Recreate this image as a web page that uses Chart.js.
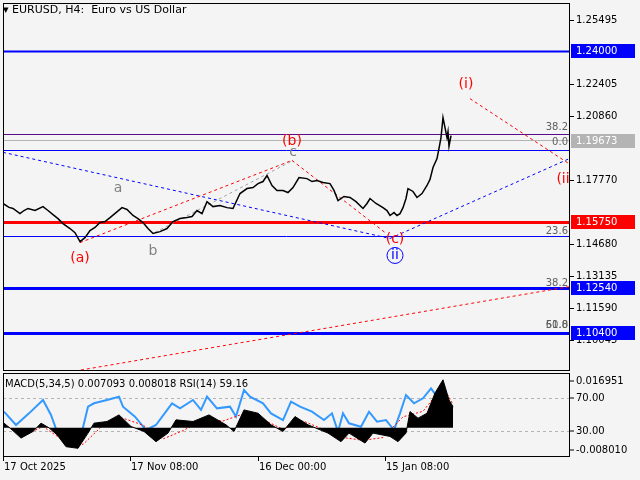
<!DOCTYPE html>
<html><head><meta charset="utf-8">
<script src="https://cdn.jsdelivr.net/npm/chart.js@4.4.1/dist/chart.umd.min.js"></script>
<style>
body{margin:0;background:#f4f4f4;width:640px;height:480px;overflow:hidden;position:relative;font-family:"DejaVu Sans",sans-serif}
#c1{position:absolute;left:0;top:0}
#c2{position:absolute;left:0;top:371px}
</style></head><body>
<canvas id="c1" width="640" height="371"></canvas>
<canvas id="c2" width="640" height="109"></canvas>
<script>
// ---- data ----
const priceBars=[0,6,10,17,21,25,32,40,45,50,55,60,67,72,77,82,87,92,97,102,107,113,119,124,130,135,140,145,150,157,164,170,177,184,189,194,199,204,210,217,224,230,237,244,250,255,260,264,269,274,280,285,290,296,304,309,314,320,327,331,335,341,347,353,360,364,367,373,380,384,387,391,394,397,400,403,405,410,414,419,424,427,430,434,436,438,440,442,444,445,446,448];
const priceVals=[1.1664,1.1645,1.1640,1.1615,1.1630,1.1640,1.1630,1.1649,1.1630,1.1610,1.1591,1.1567,1.1543,1.1523,1.1480,1.1499,1.1533,1.1548,1.1572,1.1577,1.1596,1.1620,1.1644,1.1635,1.1606,1.1591,1.1572,1.1543,1.1519,1.1528,1.1543,1.1577,1.1591,1.1596,1.1601,1.1630,1.1615,1.1673,1.1649,1.1654,1.1644,1.1640,1.1712,1.1736,1.1741,1.1760,1.1770,1.1799,1.1751,1.1727,1.1727,1.1717,1.1741,1.1789,1.1784,1.1770,1.1775,1.1765,1.1760,1.1727,1.1678,1.1698,1.1693,1.1673,1.1640,1.1664,1.1688,1.1664,1.1644,1.1630,1.1606,1.1620,1.1606,1.1615,1.1644,1.1688,1.1736,1.1722,1.1693,1.1712,1.1751,1.1780,1.1838,1.1881,1.1930,1.1982,1.2079,1.2030,1.1982,1.2011,1.1940,1.1992,1.1934];
const axisTicks=[1.25495,1.22405,1.20860,1.17770,1.14680,1.13135,1.11590,1.10045];
const levelPrices=[1.2400,1.1998,1.1969,1.1921,1.1575,1.1509,1.1254,1.1040];
const levelColors=['#0000ff','#5b0a8c','#b4b4b4','#0000ff','#ff0000','#0000ff','#0000ff','#0000ff'];
const levelWidths=[2,1,1,1,3,1,3,3];
const boxPrices=[1.2400,1.1967,1.1575,1.1254,1.1040];
const boxLabels=['1.24000','1.19673','1.15750','1.12540','1.10400'];
const boxColors=['#0000ff','#b4b4b4','#ff0000','#0000ff','#0000ff'];
const fiboLabels=['38.2','0.0','23.6','38.2','50.0','61.8'];
const fiboPrices=[1.2030,1.1959,1.1530,1.1280,1.1075,1.1075];
const waveText=['(a)','a','b','(b)','c','(c)','ii','(i)','(ii'];
const waveBars=[77,115,150,289,290,392,392,463,560];
const wavePrices=[1.1399,1.1738,1.1432,1.1964,1.1910,1.1490,1.1413,1.2238,1.1780];
const waveColors=['#ff0000','#808080','#808080','#ff0000','#808080','#ff0000','#0000ff','#ff0000','#ff0000'];
const dashLines=[ // [bar1,price1,bar2,price2,color]
 [0,1.1911,387,1.1495,'#0000ff'],[387,1.1495,567,1.1882,'#0000ff'],
 [77,1.1475,289,1.1872,'#ff0000'],[289,1.1872,382,1.1524,'#ff0000'],
 [467,1.2170,567,1.1853,'#ff0000'],[72,1.0855,567,1.1263,'#ff0000'],
 [152,1.1524,290,1.1872,'#a0a0a0']];
const rsiBars=[1,13,26,40,48,54,65,79,85,91,104,116,120,132,143,153,169,177,190,198,204,214,227,233,241,247,260,268,280,288,297,309,321,329,335,340,346,358,366,374,383,391,397,403,411,420,428,434,440,446,450];
const rsiVals=[53.4,37.3,51.4,67.6,49.4,29.2,27.2,29.2,59.5,63.6,67.6,71.6,59.5,47.4,31.2,37.3,63.6,57.5,67.6,55.5,71.6,57.5,59.5,47.4,79.7,71.6,63.6,51.4,43.3,65.6,59.5,53.4,43.3,51.4,29.2,51.4,39.3,35.2,53.4,41.3,43.3,31.2,51.4,73.6,63.6,69.6,81.7,71.6,83.7,59.5,57.5];
const macdBars=[1,9,18,30,38,46,54,63,75,85,91,104,116,128,141,153,165,173,190,206,223,231,241,255,268,280,292,305,317,325,338,346,362,370,387,395,403,407,415,424,432,440,446,450];
const macdVals=[0.0017,-0.0007,-0.0037,-0.0013,0.0017,0.0000,-0.0025,-0.0068,-0.0074,-0.0019,0.0017,0.0023,0.0047,0.0005,-0.0013,-0.0050,-0.0019,0.0029,0.0023,0.0047,0.0011,-0.0013,0.0065,0.0053,0.0011,-0.0013,0.0041,0.0011,-0.0007,-0.0019,-0.0050,-0.0019,-0.0055,-0.0019,-0.0031,-0.0050,-0.0019,0.0059,0.0035,0.0053,0.0126,0.0174,0.0101,0.0077];
const sigBars=[1,20,40,60,80,100,120,140,160,180,200,220,240,260,280,300,320,340,360,380,400,420,440,450];
const sigVals=[0.0012,-0.0030,0.0005,-0.0045,-0.0060,0.0010,0.0035,0.0010,-0.0040,-0.0010,0.0030,0.0025,0.0050,0.0030,-0.0005,0.0025,-0.0005,-0.0035,-0.0045,-0.0035,0.0040,0.0060,0.0150,0.0085];
const xTickBars=[0,127,255,382];
const xTickLabels=['17 Oct 2025','17 Nov 08:00','16 Dec 00:00','15 Jan 08:00'];
const subTicks=[[0.016951,'0.016951','yMacd'],[70,'70.00','yRsi'],[30,'30.00','yRsi'],[-0.008010,'-0.008010','yMacd']];
const titleText='EURUSD, H4:  Euro vs US Dollar';
const subTitle='MACD(5,34,5) 0.007093 0.008018 RSI(14) 59.16';

const F='10px "DejaVu Sans"';
const xy=(a,b)=>a.map((v,i)=>({x:v,y:b[i]}));

const mainPlugin={id:'mp',
 beforeDatasetsDraw(ch){const c=ch.ctx,a=ch.chartArea,x=ch.scales.x,y=ch.scales.y;
  c.save();
  levelPrices.forEach((p,i)=>{const py=Math.round(y.getPixelForValue(p))+0.5;c.strokeStyle=levelColors[i];c.lineWidth=levelWidths[i];c.beginPath();c.moveTo(a.left,py);c.lineTo(a.right,py);c.stroke();});
  c.setLineDash([3,3]);c.lineWidth=1;
  dashLines.forEach(d=>{c.strokeStyle=d[4];c.beginPath();c.moveTo(x.getPixelForValue(d[0]),y.getPixelForValue(d[1]));c.lineTo(x.getPixelForValue(d[2]),y.getPixelForValue(d[3]));c.stroke();});
  c.restore();},
 afterDatasetsDraw(ch){const c=ch.ctx,a=ch.chartArea,x=ch.scales.x,y=ch.scales.y;
  c.save();c.font=F;c.textBaseline='middle';
  c.fillStyle='#606060';c.textAlign='right';
  fiboLabels.forEach((t,i)=>c.fillText(t,a.right-2,y.getPixelForValue(fiboPrices[i])));
  c.font='14px "DejaVu Sans"';c.textAlign='center';
  waveText.forEach((t,i)=>{const px=x.getPixelForValue(waveBars[i]),py=y.getPixelForValue(wavePrices[i]);c.fillStyle=waveColors[i];c.fillText(t,px,py);
   if(t==='ii'){c.strokeStyle='#0000ff';c.lineWidth=1;c.beginPath();c.arc(px,py,8,0,7);c.stroke();}});
  c.font='11px "DejaVu Sans"';c.textAlign='left';c.fillStyle='#000';
  c.fillText('\u25BE '+titleText,3,10);
  c.strokeStyle='#000';c.lineWidth=1;c.strokeRect(a.left+0.5,a.top+0.5,a.width-1,a.height);
  c.font=F;
  axisTicks.forEach(v=>{const py=Math.round(y.getPixelForValue(v))+0.5;c.beginPath();c.moveTo(a.right,py);c.lineTo(a.right+4,py);c.stroke();c.fillText(v.toFixed(5),a.right+6,py);});
  boxPrices.forEach((p,i)=>{const py=Math.round(y.getPixelForValue(p));c.fillStyle=boxColors[i];c.fillRect(a.right+1,py-7,64,14);c.fillStyle='#fff';c.fillText(boxLabels[i],a.right+6,py);});
  c.restore();}
};
new Chart(document.getElementById('c1'),{type:'line',
 data:{datasets:[{data:xy(priceBars,priceVals),borderColor:'#000',borderWidth:1.5,pointRadius:0,tension:0}]},
 options:{animation:false,responsive:false,events:[],plugins:{legend:{display:false},tooltip:{enabled:false}},
  layout:{padding:{left:3,top:3,bottom:1,right:70}},
  scales:{x:{type:'linear',min:0,max:567,display:false},
   y:{min:1.0860,max:1.2632,display:false}}},
 plugins:[mainPlugin]});

const subPlugin={id:'sp',
 beforeDatasetsDraw(ch){const c=ch.ctx,a=ch.chartArea,r=ch.scales.yRsi;c.save();c.strokeStyle='#b4b4b4';c.setLineDash([3,3]);
  [70,30].forEach(v=>{const py=Math.round(r.getPixelForValue(v))+0.5;c.beginPath();c.moveTo(a.left,py);c.lineTo(a.right,py);c.stroke();});c.restore();},
 afterDatasetsDraw(ch){const c=ch.ctx,a=ch.chartArea,x=ch.scales.x;c.save();
  c.strokeStyle='#000';c.strokeRect(a.left+0.5,a.top+0.5,a.width-1,a.height-1);
  c.font=F;c.fillStyle='#000';c.textBaseline='middle';c.textAlign='left';
  c.fillText(subTitle,5,a.top+11);
  subTicks.forEach(t=>{const py=ch.scales[t[2]].getPixelForValue(t[0]);c.beginPath();c.moveTo(a.right,py);c.lineTo(a.right+4,py);c.stroke();c.fillText(t[1],a.right+6,py);});
  c.textBaseline='top';
  xTickBars.forEach((b,i)=>{const px=x.getPixelForValue(b);c.beginPath();c.moveTo(px+0.5,a.bottom);c.lineTo(px+0.5,a.bottom+4);c.stroke();c.fillText(xTickLabels[i],px+1,a.bottom+5);});
  c.restore();}};
new Chart(document.getElementById('c2'),{type:'line',
 data:{datasets:[
  {data:xy(macdBars,macdVals),yAxisID:'yMacd',borderColor:'#000',backgroundColor:'#000',fill:{value:0},borderWidth:1,pointRadius:0},
  {data:xy(sigBars,sigVals),yAxisID:'yMacd',borderColor:'#ff0000',borderDash:[2,2],borderWidth:1,pointRadius:0,fill:false},
  {data:xy(rsiBars,rsiVals),yAxisID:'yRsi',borderColor:'#3399ff',borderWidth:2,pointRadius:0,fill:false}]},
 options:{animation:false,responsive:false,events:[],plugins:{legend:{display:false},tooltip:{enabled:false}},
  layout:{padding:{left:3,top:2,bottom:23,right:70}},
  scales:{x:{type:'linear',min:0,max:567,display:false},
   yRsi:{type:'linear',axis:'y',min:-1.5,max:100.3,display:false},yMacd:{type:'linear',axis:'y',min:-0.01054,max:0.01985,display:false}}},
 plugins:[subPlugin]});
</script></body></html>
